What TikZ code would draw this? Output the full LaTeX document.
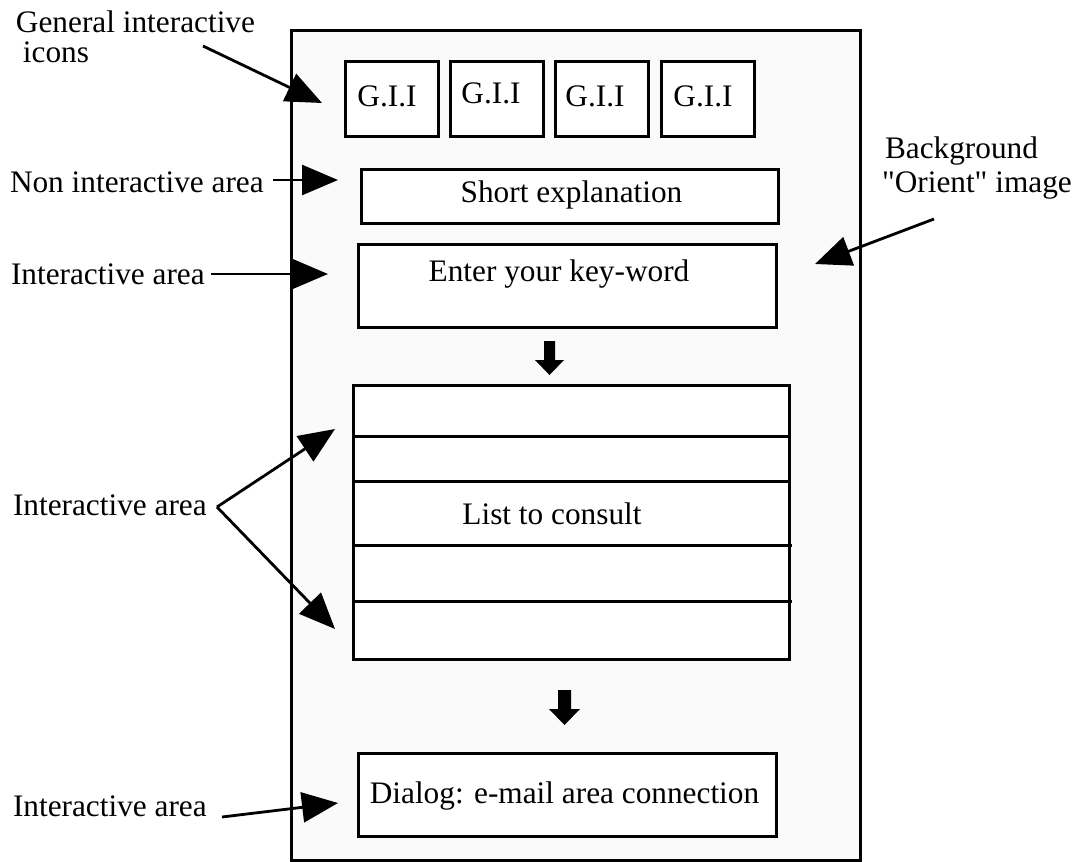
\documentclass[tikz,border=0pt]{standalone}
\usepackage{fontspec}
\setmainfont{Liberation Serif}[Ligatures=TeXOff]
\usetikzlibrary{arrows.meta}
\begin{document}
\begin{tikzpicture}[x=1pt,y=-1pt,
  every node/.style={inner sep=0pt, outer sep=0pt},
  txt/.style={anchor=base, font=\fontsize{31.3}{32}\selectfont},
  lbl/.style={anchor=base west, font=\fontsize{31.3}{32}\selectfont},
  box/.style={draw=black, line width=3pt, fill=white, rectangle},
  pointer/.style={line width=2.8pt, -{Triangle[length=36pt,width=30pt]}},
  sep/.style={line width=3pt},
  blockarrow/.style={fill=black, draw=none}]
\useasboundingbox (0,0) rectangle (1085,862);
\fill[white] (0,0) rectangle (1085,862);
% frame
\node[draw=black, line width=3pt, fill=black!2, minimum width=569pt, minimum height=830pt] (frame) at (575.5,445) {};
% G.I.I boxes
\node[box, minimum width=93pt, minimum height=75pt] (g1) at (392.2,99.2) {};
\node[box, minimum width=92.6pt, minimum height=75pt] (g2) at (497,99.2) {};
\node[box, minimum width=93pt, minimum height=75pt] (g3) at (601.5,99.2) {};
\node[box, minimum width=93.3pt, minimum height=75pt] (g4) at (708.3,99.2) {};
\node[txt] (t1) at (387,106) {G.I.I};
\node[txt] (t2) at (491,103) {G.I.I};
\node[txt] (t3) at (595,106) {G.I.I};
\node[txt] (t4) at (703,106) {G.I.I};
% short explanation
\node[box, minimum width=417pt, minimum height=54pt] (short) at (569.5,196) {};
\node[txt] (shorttxt) at (571.5,202) {Short explanation};
% key-word
\node[box, minimum width=418pt, minimum height=83pt] (kw) at (567,285.5) {};
\node[txt] (kwtxt) at (559,281) {Enter your key-word};
% list
\node[box, minimum width=436pt, minimum height=274pt] (list) at (571,522) {};
\draw[sep] (list.west |- 0,436) -- (list.east |- 0,436);
\draw[sep] (list.west |- 0,481) -- (list.east |- 0,481);
\draw[sep] (list.west |- 0,545) -- (792,545);
\draw[sep] (list.west |- 0,601) -- (792,601);
\node[txt] (listtxt) at (552,524) {List to consult};
% dialog
\node[box, minimum width=418pt, minimum height=83pt] (dialog) at (567,794.5) {};
\node[txt] (dialogtxt) at (564.5,803) {Dialog: e-mail area connection};
% block arrows
\fill[blockarrow] (544,341) -- (555,341) -- (555,360) -- (564,360) -- (549.5,375) -- (535,360) -- (544,360) -- cycle;
\fill[blockarrow] (558,690) -- (571,690) -- (571,709) -- (580,709) -- (564.5,725) -- (549,709) -- (558,709) -- cycle;
% labels
\node[lbl] (gen1) at (16,32) {General interactive};
\node[lbl] (gen2) at (23,62) {icons};
\node[lbl] (non) at (10,192) {Non interactive area};
\node[lbl] (ia1) at (11,284) {Interactive area};
\node[lbl] (ia2) at (13,515) {Interactive area};
\node[lbl] (ia3) at (13,816) {Interactive area};
\node[lbl] (bg1) at (885,158) {Background};
\node[lbl] (bg2) at (882,192) {"Orient" image};
% pointer coordinates
\coordinate (s1) at (203,46);   \coordinate (e1) at (322,103);
\coordinate (s2) at (273,180);  \coordinate (e2) at (338,180);
\coordinate (s3) at (211,274);  \coordinate (e3) at (328,274);
\coordinate (s4) at (217,507);  \coordinate (e4a) at (335,429); \coordinate (e4b) at (335,629);
\coordinate (s5) at (222,817);  \coordinate (e5) at (338,803);
\coordinate (s6) at (934,219);  \coordinate (e6) at (815,264);
\draw[pointer] (s1) -- (e1);
\draw[pointer] (s2) -- (e2);
\draw[pointer] (s3) -- (e3);
\draw[pointer] (s4) -- (e4a);
\draw[pointer] (s4) -- (e4b);
\draw[pointer] (s5) -- (e5);
\draw[pointer] (s6) -- (e6);
\end{tikzpicture}
\end{document}
